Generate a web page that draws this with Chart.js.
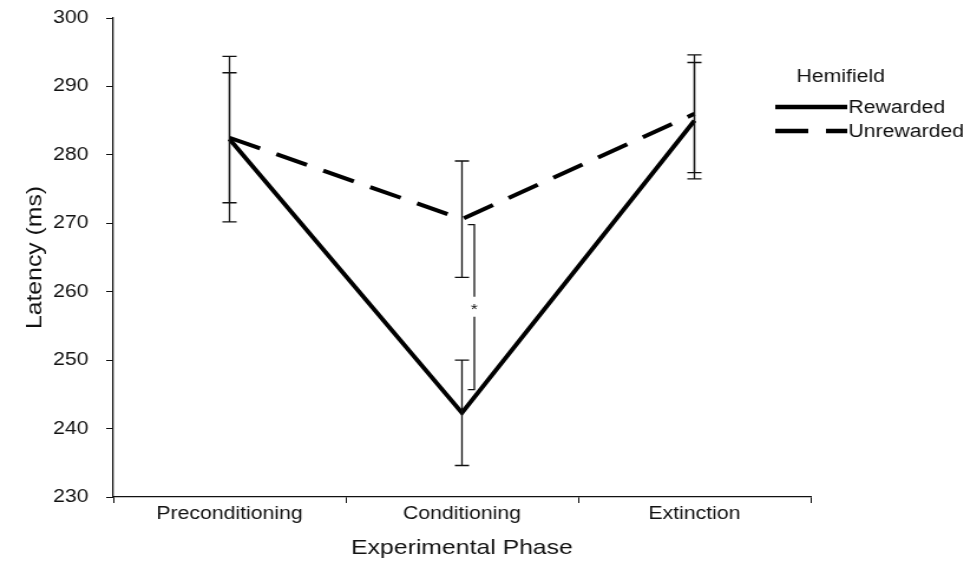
<!DOCTYPE html>
<html>
<head>
<meta charset="utf-8">
<script src="https://cdn.jsdelivr.net/npm/chart.js@4"></script>
<style>
  html, body { margin: 0; padding: 0; background: #fff; overflow: hidden; }
  #chart { display: block; }
</style>
</head>
<body>
<canvas id="chart" width="828" height="565" style="width:977px;height:565px"></canvas>
<script>
const phases = ["Preconditioning", "Conditioning", "Extinction"];
const rewarded = [282.3, 242.3, 285.0];
const rewardedErr = [12.1, 7.7, 8.5];
const unrewarded = [282.5, 270.6, 286.0];
const unrewardedErr = [9.5, 8.5, 8.6];
const yTicks = [230, 240, 250, 260, 270, 280, 290, 300];
// significance bracket between the two Conditioning means
const sigLow = 245.7;
const sigHigh = 269.8;
const sigMark = 257.8;

const ink = "#111";
const font = "'Liberation Sans', Arial, sans-serif";
const stretch = 977 / 828; // canvas is drawn narrow and widened by css

const errorBars = {
  id: "errorBars",
  afterDatasetsDraw(chart) {
    const { ctx, scales: { x, y } } = chart;
    ctx.save();
    ctx.strokeStyle = ink;
    ctx.lineWidth = 1.3;
    chart.data.datasets.forEach((ds) => {
      ds.errors.forEach((err, i) => {
        const px = x.getPixelForValue(i);
        const top = y.getPixelForValue(ds.data[i] + err);
        const bot = y.getPixelForValue(ds.data[i] - err);
        ctx.beginPath();
        ctx.moveTo(px, top); ctx.lineTo(px, bot);
        ctx.moveTo(px - 6, top); ctx.lineTo(px + 6, top);
        ctx.moveTo(px - 6, bot); ctx.lineTo(px + 6, bot);
        ctx.stroke();
      });
    });

    // bracket with asterisk
    const cx = x.getPixelForValue(1);
    const top = y.getPixelForValue(sigHigh);
    const bot = y.getPixelForValue(sigLow);
    const mid = y.getPixelForValue(sigMark);
    ctx.beginPath();
    ctx.moveTo(cx + 5, top); ctx.lineTo(cx + 10.5, top); ctx.lineTo(cx + 10.5, mid - 10);
    ctx.moveTo(cx + 10.5, mid + 10); ctx.lineTo(cx + 10.5, bot); ctx.lineTo(cx + 5, bot);
    ctx.stroke();
    ctx.fillStyle = ink;
    ctx.font = `15px ${font}`;
    ctx.textAlign = "center";
    ctx.textBaseline = "middle";
    ctx.fillText("*", cx + 10.5, mid + 3);
    ctx.restore();
  },
};

const sideText = {
  id: "sideText",
  afterDraw(chart) {
    const { ctx, chartArea } = chart;
    ctx.save();
    ctx.fillStyle = ink;
    ctx.textBaseline = "middle";
    ctx.textAlign = "left";
    ctx.font = `18px ${font}`;
    ctx.fillText("Hemifield", 675, 77);
    chart.data.datasets.forEach((ds, i) => {
      const yy = 107 + i * 24;
      ctx.beginPath();
      ctx.strokeStyle = "#000";
      ctx.lineWidth = 4.5;
      ctx.setLineDash(ds.borderDash || []);
      ctx.moveTo(657, yy);
      ctx.lineTo(718, yy);
      ctx.stroke();
      ctx.setLineDash([]);
      ctx.fillText(ds.label, 719, yy + 1);
    });
    ctx.restore();

    // y axis title, kept with the same wide letter shapes as the rest
    ctx.save();
    ctx.fillStyle = ink;
    ctx.font = `21px ${font}`;
    ctx.textAlign = "center";
    ctx.textBaseline = "middle";
    ctx.translate(30, (chartArea.top + chartArea.bottom) / 2);
    ctx.scale(1 / stretch, 1);
    ctx.rotate(-Math.PI / 2);
    ctx.scale(stretch, 1);
    ctx.fillText("Latency (ms)", 0, 0);
    ctx.restore();
  },
};

new Chart(document.getElementById("chart"), {
  type: "line",
  data: {
    labels: phases,
    datasets: [
      {
        label: "Rewarded",
        data: rewarded,
        errors: rewardedErr,
        borderColor: "#000",
        borderWidth: 4,
        pointRadius: 0,
        tension: 0,
      },
      {
        label: "Unrewarded",
        data: unrewarded,
        errors: unrewardedErr,
        borderColor: "#000",
        borderWidth: 4,
        borderDash: [28, 15],
        pointRadius: 0,
        tension: 0,
      },
    ],
  },
  options: {
    responsive: false,
    animation: false,
    layout: { padding: { top: 18, right: 141, bottom: 0, left: 0 } },
    plugins: { legend: { display: false }, tooltip: { enabled: false } },
    scales: {
      x: {
        offset: true,
        grid: { offset: true, drawOnChartArea: false, tickLength: 6, color: ink },
        border: { color: ink, width: 1.3 },
        ticks: { color: ink, font: { family: font, size: 18 }, padding: 0, maxRotation: 0 },
        title: {
          display: true,
          text: "Experimental Phase",
          color: ink,
          font: { family: font, size: 21 },
          padding: { top: 0, bottom: 4 },
        },
        afterFit(scale) {
          scale.height = 68;
          scale.paddingLeft = 0;
          scale.paddingRight = 0;
        },
      },
      y: {
        min: 230,
        max: 300,
        afterBuildTicks(scale) { scale.ticks = yTicks.map((v) => ({ value: v })); },
        grid: { drawOnChartArea: false, tickLength: 6, color: ink },
        border: { color: ink, width: 1.3 },
        ticks: { color: ink, font: { family: font, size: 18 }, padding: 15 },
        afterFit(scale) {
          scale.width = 96;
          scale.paddingTop = 0;
          scale.paddingBottom = 0;
        },
      },
    },
  },
  plugins: [errorBars, sideText],
});
</script>
</body>
</html>
